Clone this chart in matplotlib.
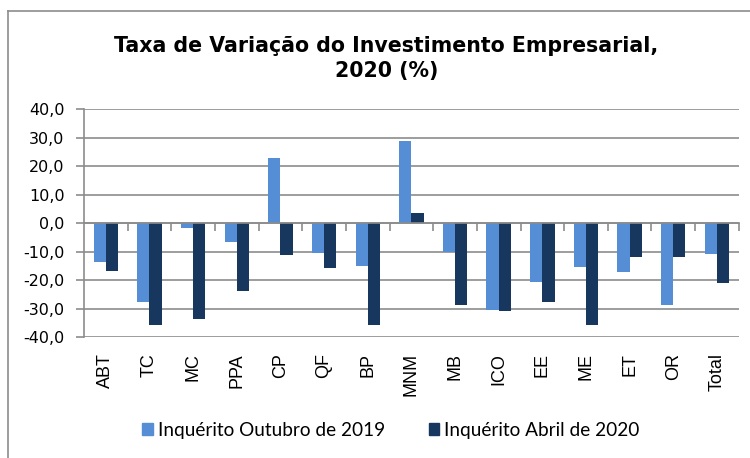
import numpy as np
import matplotlib.pyplot as plt
from matplotlib.patches import Rectangle
from matplotlib.lines import Line2D

# Taxa de variação do investimento empresarial por setor (%)
setores = ['ABT', 'TC', 'MC', 'PPA', 'CP', 'QF', 'BP', 'MNM',
           'MB', 'ICO', 'EE', 'ME', 'ET', 'OR', 'Total']
out_2019 = [-13.8, -27.8, -1.9, -6.8, 22.7, -10.6, -15.2, 28.8,
            -10.3, -30.4, -20.6, -15.4, -17.3, -28.8, -10.7]
abr_2020 = [-16.7, -35.7, -33.7, -23.7, -11.2, -15.9, -35.7, 3.5,
            -28.7, -30.9, -27.6, -35.7, -11.8, -11.9, -21.2]
yticks = [-40, -30, -20, -10, 0, 10, 20, 30, 40]

light = '#558ED5'
dark = '#17375E'
grey = '#8C8C8C'

fig = plt.figure(figsize=(7.5, 4.58), dpi=100)
ax = fig.add_axes([0.112, 0.264, 0.873, 0.498])

x = np.arange(len(setores))
w = 0.28
ax.bar(x - w / 2, out_2019, w, color=light, label='Inquérito Outubro de 2019', zorder=3)
ax.bar(x + w / 2, abr_2020, w, color=dark, label='Inquérito Abril de 2020', zorder=3)

ax.set_xlim(-0.5, len(setores) - 0.5)
ax.set_ylim(-40, 40)
ax.set_yticks(yticks)
ax.set_yticklabels([f'{v:.1f}'.replace('.', ',') for v in yticks],
                   fontsize=11.5, family='DejaVu Sans')
ax.yaxis.grid(True, color=grey, linewidth=1.2, zorder=0)

for s in ['top', 'right']:
    ax.spines[s].set_visible(False)
ax.spines['left'].set_color(grey)
ax.spines['left'].set_linewidth(1.2)
ax.spines['bottom'].set_position(('data', 0))
ax.spines['bottom'].set_color(grey)
ax.spines['bottom'].set_linewidth(1.2)
ax.spines['bottom'].set_zorder(4)
ax.tick_params(axis='y', length=6, color=grey, width=1.2, pad=8)
ax.set_xticks(np.arange(len(setores)) + 0.5)
ax.set_xticklabels([])
ax.tick_params(axis='x', length=6, color=grey, width=1.2)

# category labels below the plot area
trans = ax.get_xaxis_transform()
for xi, s in zip(x, setores):
    ax.text(xi, -0.07, s, transform=trans, rotation=90, ha='center', va='top',
            fontsize=13, family='Liberation Sans')

fig.text(0.515, 0.872, 'Taxa de Variação do Investimento Empresarial,\n2020 (%)',
         ha='center', va='center', fontsize=14.8, fontweight='bold',
         family='DejaVu Sans', linespacing=1.35)

handles = [Rectangle((0, 0), 1, 1, color=light), Rectangle((0, 0), 1, 1, color=dark)]
fig.legend(handles, ['Inquérito Outubro de 2019', 'Inquérito Abril de 2020'],
           loc='center', bbox_to_anchor=(0.521, 0.061), ncol=2, frameon=False,
           prop={'family': 'Lato', 'size': 13.7}, handlelength=0.55, handleheight=0.55,
           handletextpad=0.25, columnspacing=2.3)

# chart frame (top and left edges visible)
fig.add_artist(Line2D([0.0107, 1.0], [0.976, 0.976], color=grey, linewidth=1.2))
fig.add_artist(Line2D([0.0107, 0.0107], [0.0, 0.976], color=grey, linewidth=1.2))

fig.savefig('out.png', dpi=100)
